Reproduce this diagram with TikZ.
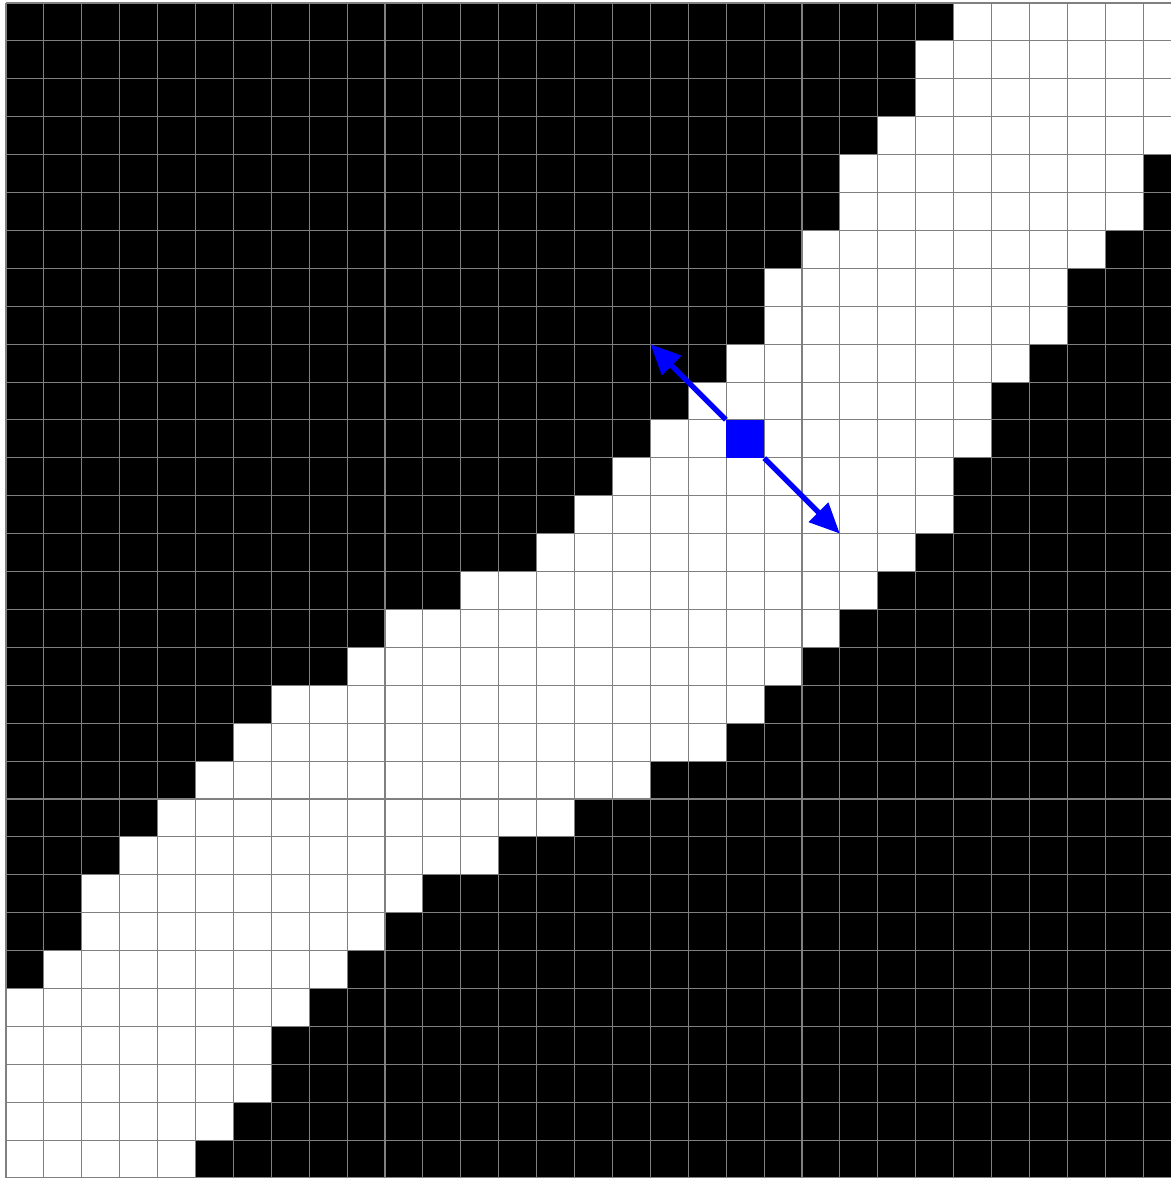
\documentclass[tikz,border=0pt]{standalone}
\usetikzlibrary{arrows.meta}
\begin{document}
\begin{tikzpicture}[
	x=1cm, y=-1cm,
	pixw/.style={ white },
	gridl/.style={ gray, line width=0.8pt },
	sample/.style={ rectangle, fill=blue, inner sep=0pt, minimum size=1cm },
	normalv/.style={ blue, line width=4pt, -{Triangle[length=0.8cm,width=0.7cm]} }
]

\useasboundingbox (-0.158,-0.079) rectangle (30.712,31);
\fill[black] (0,0) rectangle (31,31);

\foreach \r/\a/\b in {0/25/30, 1/24/30, 2/24/30, 3/23/30, 4/22/29, 5/22/29, 6/21/28, 7/20/27,
	8/20/27, 9/19/26, 10/18/25, 11/17/25, 12/16/24, 13/15/24, 14/14/23, 15/12/22,
	16/10/21, 17/9/20, 18/7/19, 19/6/18, 20/5/16, 21/4/14, 22/3/12, 23/2/10,
	24/2/9, 25/1/8, 26/0/7, 27/0/6, 28/0/6, 29/0/5, 30/0/4}
	\fill[pixw] (\a,\r) rectangle (\b+1,\r+1);

\draw[gridl] (0,0) grid (31,31);

\node at (19.5,11.5) (s) [sample] {};
\coordinate (n1) at (17,9);
\coordinate (n2) at (22,14);
\draw[normalv] (s.north west) to (n1);
\draw[normalv] (s.south east) to (n2);

\end{tikzpicture}
\end{document}
